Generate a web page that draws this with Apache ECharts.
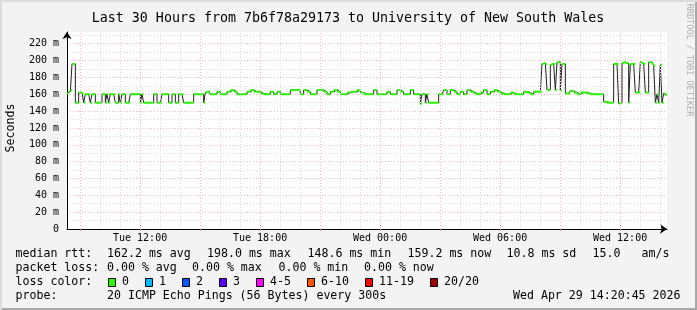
<!DOCTYPE html>
<html><head><meta charset="utf-8">
<script src="https://cdn.jsdelivr.net/npm/echarts@6/dist/echarts.min.js"></script>
<style>html,body{margin:0;padding:0;background:#f3f3f3}#c{width:697px;height:310px}</style>
</head><body><div id="c"></div>
<script>
// ---- data ----
const startHour = 8 + 20.75 / 60;      // Tue 08:20:45, hours since Tue 00:00
const spanHours = 30;
const stepHours = 5 / 60;              // one sample every 300 s
const rttBlock1 = [ // Tue 08:20 - 14:20 (ms)
 161,163,165,196,196,150,150,162,162,161,150,160,
 160,160,150,160,160,150,150,150,150,160,160,150,
 160,150,160,160,160,150,150,160,150,160,160,150,
 150,150,160,160,160,160,160,160,150,160,150,150,
 150,150,150,150,160,160,150,150,150,160,160,160,
 160,150,150,160,160,150,150,160,160,160,150,150];
const rttBlock2 = [ // Tue 14:20 - 20:20
 150,150,150,150,160,160,160,160,160,160,150,162,163,163,160,160,160,160,163,163,160,160,160,160,
 163,163,165,165,163,163,160,160,160,160,160,160,163,163,165,165,163,163,163,163,161,161,160,160,
 160,160,163,163,160,160,163,163,160,160,160,160,160,160,165,165,165,165,165,165,160,160,165,165];
const rttBlock3 = [ // Tue 20:20 - Wed 02:20
 163,163,160,160,160,160,165,165,165,165,163,163,160,160,163,163,165,165,163,163,160,160,160,160,
 162,162,163,163,163,163,165,165,162,162,160,160,160,160,160,160,165,165,160,160,160,160,160,160,
 163,163,160,160,160,160,165,165,163,163,160,160,160,160,165,165,160,160,160,160,148.6,160,160,150];
const rttBlock4 = [ // Wed 02:20 - 08:20
 160,150,150,150,150,150,150,160,160,160,165,165,160,160,165,165,163,163,160,160,163,163,160,160,
 165,165,163,163,161,161,160,160,162,162,165,165,160,160,163,163,165,165,163,163,161,161,160,160,
 160,160,162,162,160,160,160,160,160,160,163,163,162,162,160,160,163,163,163,163,163,196,197,196];
const rttBlock5 = [ // Wed 08:20 - 14:20
 165,165,195,196,196,165,198,198,164,196,196,161,
 161,161,164,164,162,162,160,160,162,162,162,162,161,161,160,160,160,160,160,160,160,160,151,151,150,150,150,150,
 196,196,196,149,150,197,198,197,197,150,196,196,196,162,162,162,198,197,196,162,162,198,198,196,194,150,160,150,195,150,161,159];
const xLabelHours = [12, 18, 24, 30, 36];
const xLabels = ['Tue 12:00', 'Tue 18:00', 'Wed 00:00', 'Wed 06:00', 'Wed 12:00'];
const majorGridHours = [9, 12, 15, 18, 21, 24, 27, 30, 33, 36];
const minorGridHours = [10, 11, 13, 14, 16, 17, 19, 20, 22, 23, 25, 26, 28, 29, 31, 32, 34, 35, 37, 38];
const titleText = 'Last 30 Hours from 7b6f78a29173 to University of New South Wales';
const rttStats = ['162.2 ms avg', '198.0 ms max', '148.6 ms min', '159.2 ms now', '10.8 ms sd', '15.0', 'am/s'];
const lossStats = ['0.00 % avg', '0.00 % max', '0.00 % min', '0.00 % now'];
const lossLabels = ['0', '1', '2', '3', '4-5', '6-10', '11-19', '20/20'];
const lossColors = ['#26ff00', '#00b8ff', '#0059ff', '#5e00ff', '#ff00ff', '#ff5500', '#ff0000', '#a10000'];
const probeText = '20 ICMP Echo Pings (56 Bytes) every 300s';
const stampText = 'Wed Apr 29 14:20:45 2026';

// ---- build ----
const rtt = [].concat(rttBlock1, rttBlock2, rttBlock3, rttBlock4, rttBlock5);
const pts = rtt.map((v, j) => [startHour + j * stepHours, v]);
const linePts = pts.concat([[startHour + spanHours, rtt[rtt.length - 1]]]);
const FONT = "'DejaVu Sans Mono', monospace";
const MAJOR = '#f0b8b8', MINOR = '#dadada';

const rttX = [107, 207, 307.5, 407.5, 506.5, 592.5, 641.5];
const lossX = [107, 192, 278.5, 364];
const boxX = [108, 145, 182, 219, 256, 307, 365, 430];
const gridMarks = majorGridHours.map(h => ({ xAxis: h, lineStyle: { color: MAJOR, type: [1, 2], width: 1 } }))
  .concat(minorGridHours.map(h => ({ xAxis: h, lineStyle: { color: MINOR, type: [1, 2], width: 1 } })));

const graphics = [];
function txt(x, y, s, size, align) {
  graphics.push({ type: 'text', x: x, y: y, silent: true,
    style: { text: s, font: size + 'px ' + FONT, fill: '#000', align: align || 'left', verticalAlign: 'middle' } });
}
txt(348, 19, titleText, 13.3, 'center');
graphics.push({ type: 'text', x: 11, y: 128, rotation: Math.PI / 2, silent: true,
  style: { text: 'Seconds', font: '11.6px ' + FONT, fill: '#000', align: 'center', verticalAlign: 'middle' } });
graphics.push({ type: 'text', x: 689, y: 60, rotation: -Math.PI / 2, silent: true,
  style: { text: 'RRDTOOL / TOBI OETIKER', font: '8.5px ' + FONT, fill: '#b0b0b0', align: 'center', verticalAlign: 'middle' } });
txt(15.5, 254.3, 'median rtt:', 11.6);
rttStats.forEach((s, i) => txt(rttX[i], 254.3, s, 11.6));
txt(15.5, 268.3, 'packet loss:', 11.6);
lossStats.forEach((s, i) => txt(lossX[i], 268.3, s, 11.6));
txt(15.5, 282.3, 'loss color:', 11.6);
lossLabels.forEach((s, i) => {
  graphics.push({ type: 'rect', silent: true, shape: { x: boxX[i] + 0.5, y: 278.5, width: 7, height: 8 },
    style: { fill: lossColors[i], stroke: '#000', lineWidth: 1 } });
  txt(boxX[i] + 14, 282.3, s, 11.6);
});
txt(15.5, 296, 'probe:', 11.6);
txt(107, 296, probeText, 11.6);
txt(680.5, 296, stampText, 11.6, 'right');
// frame
graphics.push({ type: 'rect', silent: true, shape: { x: 695, y: 0, width: 2, height: 310 }, style: { fill: '#a8a8a8' } });
graphics.push({ type: 'rect', silent: true, shape: { x: 0, y: 308, width: 697, height: 2 }, style: { fill: '#a8a8a8' } });
graphics.push({ type: 'rect', silent: true, shape: { x: 0, y: 0, width: 697, height: 2 }, style: { fill: '#dcdcdc' } });
graphics.push({ type: 'rect', silent: true, shape: { x: 0, y: 0, width: 2, height: 310 }, style: { fill: '#dcdcdc' } });

const chart = echarts.init(document.getElementById('c'), null, { renderer: 'canvas' });
chart.setOption({
  animation: false,
  backgroundColor: '#f3f3f3',
  grid: { left: 67, right: 30, top: 32, bottom: 81, show: true, backgroundColor: '#fff', borderWidth: 0 },
  xAxis: {
    type: 'value', min: startHour, max: startHour + spanHours,
    axisLine: { show: true, lineStyle: { color: '#000', width: 1 }, symbol: ['none', 'arrow'], symbolSize: [7, 7] },
    axisTick: { show: true, customValues: majorGridHours, length: 2, lineStyle: { color: '#d88' } },
    axisLabel: { customValues: xLabelHours, formatter: v => xLabels[xLabelHours.indexOf(v)] || '',
      fontFamily: FONT, fontSize: 10, color: '#000', margin: 4 },
    splitLine: { show: false }
  },
  yAxis: {
    type: 'value', min: 0, max: 233.9, interval: 10,
    axisLine: { show: true, lineStyle: { color: '#000', width: 1 }, symbol: ['none', 'arrow'], symbolSize: [7, 7] },
    axisTick: { show: false },
    axisLabel: { formatter: v => (v % 20 === 0 ? (v === 0 ? '0' : v + ' m') : ''), fontFamily: FONT, fontSize: 10, color: '#000', margin: 8 },
    splitLine: { show: true, showMaxLine: false, lineStyle: { color: [MAJOR, MINOR], type: [1, 2] } }
  },
  series: [
    { type: 'line', data: linePts, z: 1, silent: true, symbol: 'none', lineStyle: { opacity: 0 },
      markLine: { silent: true, symbol: ['none', 'none'], label: { show: false }, animation: false, data: gridMarks } },
    { type: 'line', data: linePts, step: 'end', z: 3, silent: true, symbol: 'none', lineStyle: { color: '#202020', width: 1 } },
    { type: 'custom', data: pts, z: 4, silent: true, encode: { x: 0, y: 1 },
      renderItem: (params, api) => {
        const t = api.value(0), v = api.value(1);
        const a = api.coord([t, v]), b = api.coord([t + stepHours, v]);
        return { type: 'line', shape: { x1: a[0], y1: a[1], x2: b[0], y2: b[1] },
          style: { stroke: lossColors[0], lineWidth: 2, lineCap: 'butt' } };
      } }
  ],
  graphic: graphics
});
</script></body></html>
